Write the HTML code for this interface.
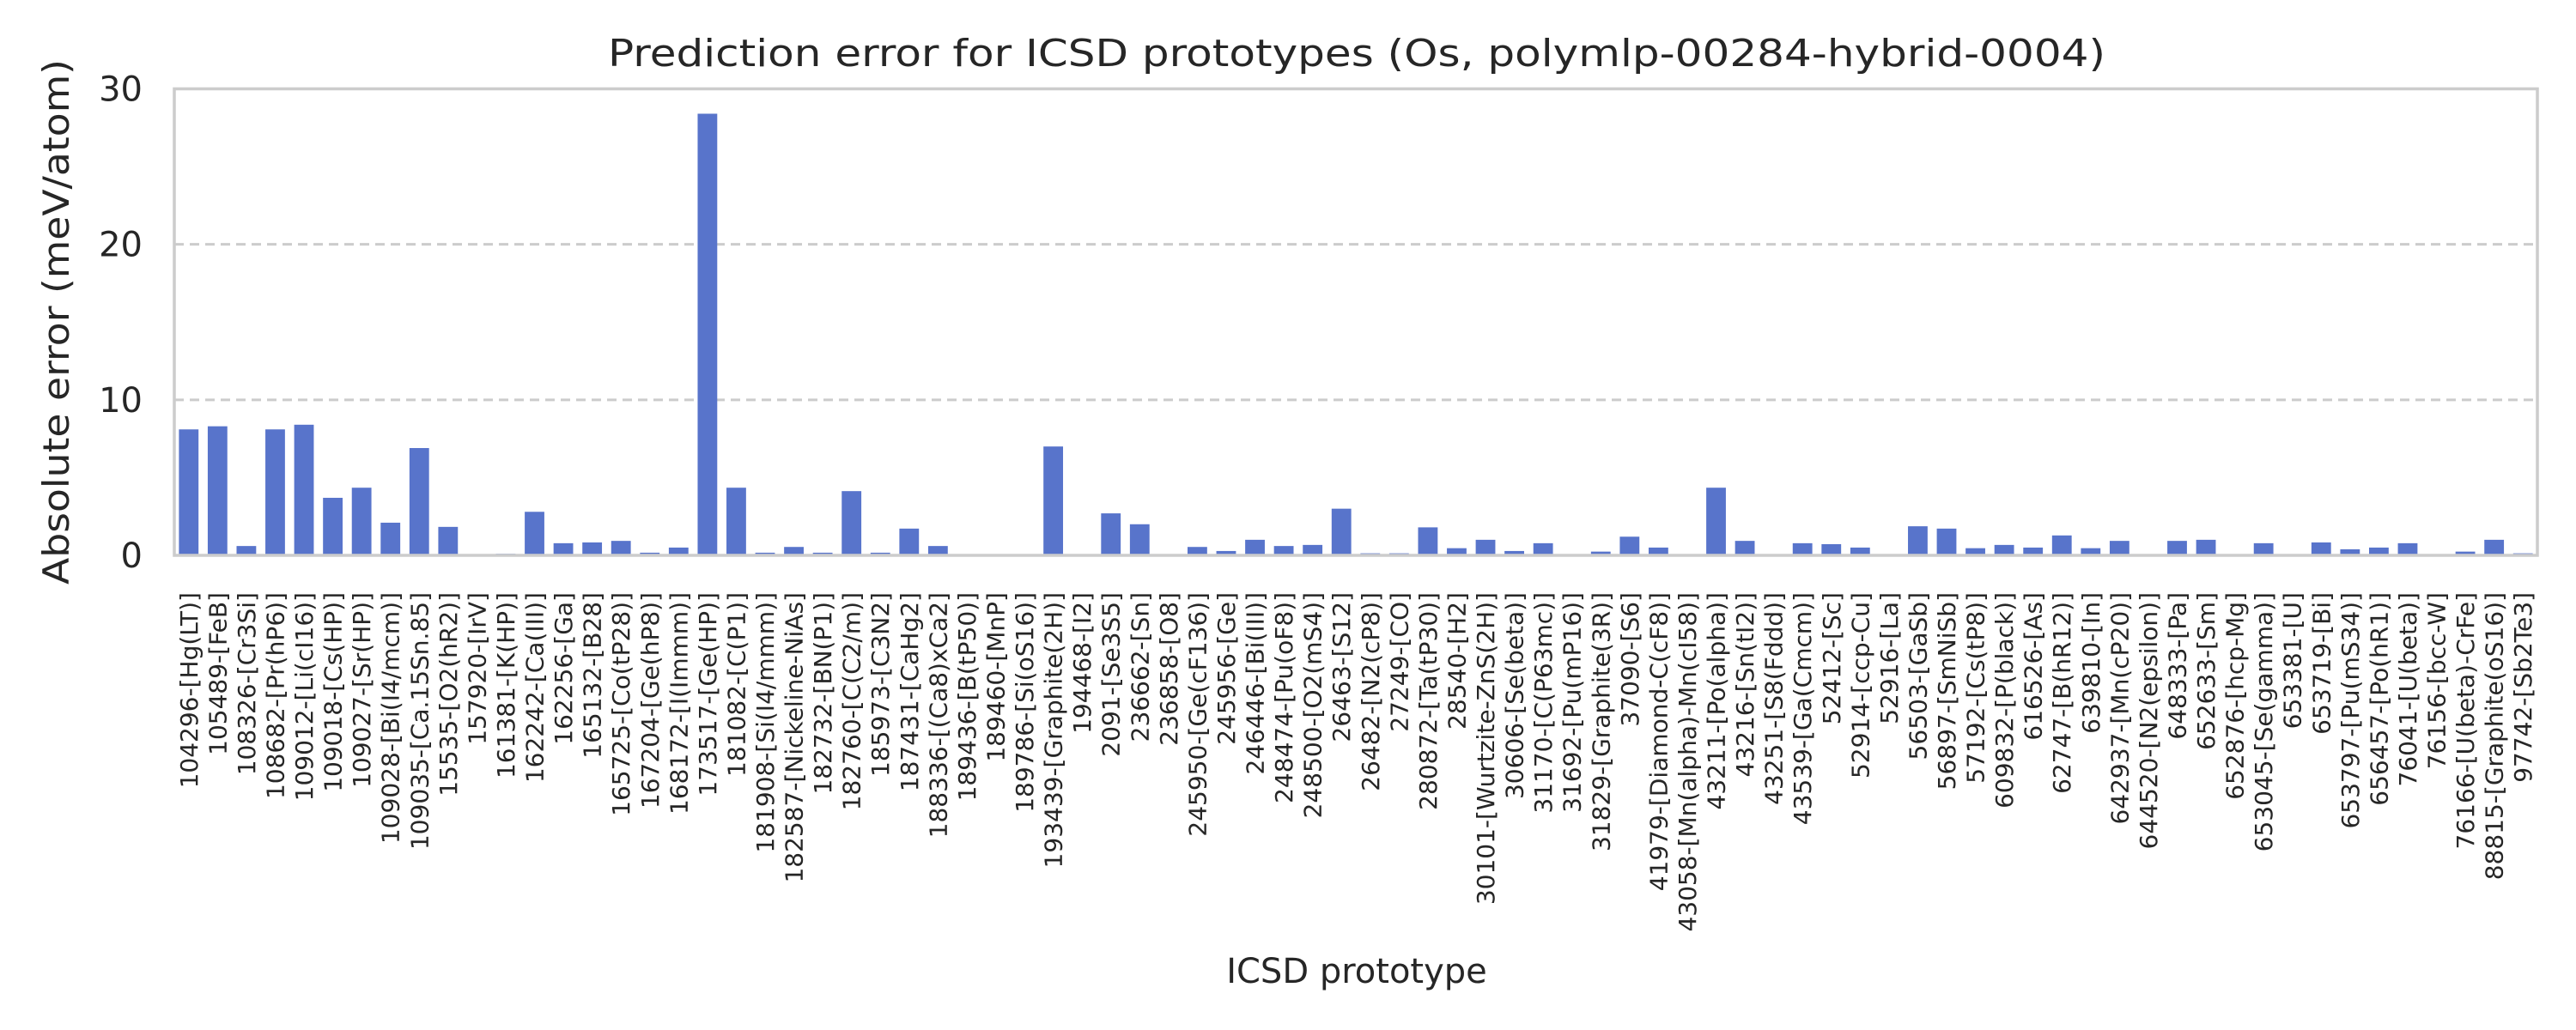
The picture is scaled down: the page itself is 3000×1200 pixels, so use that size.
<!DOCTYPE html>
<html><head><meta charset="utf-8"><style>
html,body{margin:0;padding:0;background:#fff;}
svg{display:block;font-family:"DejaVu Sans","Liberation Sans",sans-serif;}
</style></head><body>
<svg id="chart" width="3000" height="1200" viewBox="0 0 3000 1200" xmlns="http://www.w3.org/2000/svg">
<rect width="3000" height="1200" fill="#fff"/>
<text x="1580" y="77" text-anchor="middle" font-size="44" fill="#262626" textLength="1744" lengthAdjust="spacingAndGlyphs">Prediction error for ICSD prototypes (Os, polymlp-00284-hybrid-0004)</text>
<g id="grid"></g>
<g id="bars"></g>
<rect x="203" y="103.5" width="2752" height="543.5" fill="none" stroke="#cccccc" stroke-width="3.5"/>
<g id="yticks"></g>
<g id="xticks"></g>
<text transform="translate(80 375) rotate(-90)" text-anchor="middle" font-size="42" fill="#262626" textLength="612" lengthAdjust="spacingAndGlyphs">Absolute error (meV/atom)</text>
<text x="1580" y="1145" text-anchor="middle" font-size="40" fill="#262626">ICSD prototype</text>
</svg>
<script>
const categories = ["104296-[Hg(LT)]","105489-[FeB]","108326-[Cr3Si]","108682-[Pr(hP6)]","109012-[Li(cI16)]","109018-[Cs(HP)]","109027-[Sr(HP)]","109028-[Bi(I4/mcm)]","109035-[Ca.15Sn.85]","15535-[O2(hR2)]","157920-[IrV]","161381-[K(HP)]","162242-[Ca(III)]","162256-[Ga]","165132-[B28]","165725-[Co(tP28)]","167204-[Ge(hP8)]","168172-[I(Immm)]","173517-[Ge(HP)]","181082-[C(P1)]","181908-[Si(I4/mmm)]","182587-[Nickeline-NiAs]","182732-[BN(P1)]","182760-[C(C2/m)]","185973-[C3N2]","187431-[CaHg2]","188336-[(Ca8)xCa2]","189436-[B(tP50)]","189460-[MnP]","189786-[Si(oS16)]","193439-[Graphite(2H)]","194468-[I2]","2091-[Se3S5]","236662-[Sn]","236858-[O8]","245950-[Ge(cF136)]","245956-[Ge]","246446-[Bi(III)]","248474-[Pu(oF8)]","248500-[O2(mS4)]","26463-[S12]","26482-[N2(cP8)]","27249-[CO]","280872-[Ta(tP30)]","28540-[H2]","30101-[Wurtzite-ZnS(2H)]","30606-[Se(beta)]","31170-[C(P63mc)]","31692-[Pu(mP16)]","31829-[Graphite(3R)]","37090-[S6]","41979-[Diamond-C(cF8)]","43058-[Mn(alpha)-Mn(cI58)]","43211-[Po(alpha)]","43216-[Sn(tI2)]","43251-[S8(Fddd)]","43539-[Ga(Cmcm)]","52412-[Sc]","52914-[ccp-Cu]","52916-[La]","56503-[GaSb]","56897-[SmNiSb]","57192-[Cs(tP8)]","609832-[P(black)]","616526-[As]","62747-[B(hR12)]","639810-[In]","642937-[Mn(cP20)]","644520-[N2(epsilon)]","648333-[Pa]","652633-[Sm]","652876-[hcp-Mg]","653045-[Se(gamma)]","653381-[U]","653719-[Bi]","653797-[Pu(mS34)]","656457-[Po(hR1)]","76041-[U(beta)]","76156-[bcc-W]","76166-[U(beta)-CrFe]","88815-[Graphite(oS16)]","97742-[Sb2Te3]"];
const errors = [8.1,8.3,0.6,8.1,8.4,3.7,4.35,2.1,6.9,1.83,0,0.1,2.8,0.78,0.83,0.93,0.17,0.5,28.4,4.35,0.17,0.54,0.17,4.13,0.17,1.72,0.6,0,0,0,7.0,0,2.7,2.0,0,0.54,0.28,1.0,0.6,0.67,3.0,0.13,0.13,1.8,0.46,1.0,0.28,0.78,0,0.24,1.2,0.5,0,4.35,0.93,0,0.78,0.72,0.5,0,1.87,1.72,0.46,0.67,0.5,1.28,0.46,0.93,0,0.93,1.0,0,0.78,0,0.83,0.39,0.5,0.78,0,0.24,1.0,0.13];
const yTicks = [0,10,20,30];
const gridTicks = [10,20];

const NS = "http://www.w3.org/2000/svg";
const X0 = 203, X1 = 2955, Y0 = 647, Y1 = 103.5, YMAX = 30;
const band = (X1 - X0) / categories.length;
function xCenter(i){ return X0 + band * (i + 0.5); }
function yScale(v){ return Y0 - (v / YMAX) * (Y0 - Y1); }
function mk(tag, attrs){ const e = document.createElementNS(NS, tag); for (const k in attrs) e.setAttribute(k, attrs[k]); return e; }

const grid = document.getElementById('grid');
gridTicks.forEach(t => {
  const l = mk('line', {x1:X0, x2:X1, y1:yScale(t), y2:yScale(t), stroke:'#cccccc', 'stroke-width':3, 'stroke-dasharray':'11 7'});
  
  
  grid.appendChild(l);
});

const bars = document.getElementById('bars');
const bw = band * 0.68;
errors.forEach((v, i) => {
  const y = yScale(v);
  const r = mk('rect', {x:xCenter(i) - bw/2, y:y, width:bw, height:Math.max(0, Y0 - y), fill:'#5874cb'});
  
  
  bars.appendChild(r);
});

const yt = document.getElementById('yticks');
yTicks.forEach(t => {
  const tx = mk('text', {x:166, y:yScale(t) + 14, 'text-anchor':'end', 'font-size':40, fill:'#262626'});
  tx.textContent = String(t);
  
  
  yt.appendChild(tx);
});

const xt = document.getElementById('xticks');
categories.forEach((c, i) => {
  const cx = xCenter(i) + 10;
  const tx = mk('text', {x:cx, y:690, 'text-anchor':'end', 'font-size':28, fill:'#262626', transform:'rotate(-90 ' + cx + ' 690)'});
  tx.textContent = c;
  
  
  xt.appendChild(tx);
});
</script>
</body></html>
